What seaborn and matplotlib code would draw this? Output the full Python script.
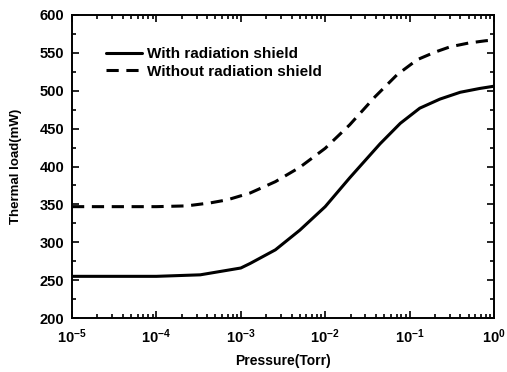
import numpy as np
import pandas as pd
import matplotlib
matplotlib.use("Agg")
import matplotlib.pyplot as plt
import seaborn as sns
from matplotlib.ticker import FuncFormatter, LogLocator, MultipleLocator, NullFormatter

# Data
pressure_with = [1e-5, 3.16e-5, 1e-4, 3.31e-4, 1.0e-3, 1.29e-3, 2.57e-3, 5.01e-3,
                 1.0e-2, 1.95e-2, 2.57e-2, 4.47e-2, 7.76e-2, 0.132, 0.229, 0.398, 0.676, 1.0]
load_with = [255, 255, 255, 257, 266, 272, 290, 316,
             347, 385, 400, 430, 457, 477, 489, 498, 503, 506]

pressure_without = [1e-5, 3.16e-5, 1e-4, 2.29e-4, 4.37e-4, 6.92e-4, 1.29e-3, 2.57e-3,
                    5.01e-3, 1.0e-2, 1.95e-2, 3.89e-2, 7.08e-2, 0.123, 0.2, 0.302,
                    0.501, 0.794, 1.0]
load_without = [347, 347, 347, 348, 352, 356, 365, 380,
                399, 424, 455, 492, 521, 541, 551, 558,
                563, 566, 567]

series_names = ["With radiation shield", "Without radiation shield"]

df = pd.concat([
    pd.DataFrame({"Pressure": pressure_with, "Load": load_with, "Series": series_names[0]}),
    pd.DataFrame({"Pressure": pressure_without, "Load": load_without, "Series": series_names[1]}),
])

sns.set_style("ticks")
plt.rcParams["font.family"] = ["Liberation Sans", "DejaVu Sans"]
plt.rcParams["font.weight"] = "bold"
plt.rcParams["text.color"] = "black"
plt.rcParams["axes.labelcolor"] = "black"
plt.rcParams["xtick.color"] = "black"
plt.rcParams["ytick.color"] = "black"
plt.rcParams["axes.edgecolor"] = "black"
plt.rcParams["mathtext.fontset"] = "custom"
plt.rcParams["mathtext.rm"] = "Liberation Sans:bold"
plt.rcParams["mathtext.bf"] = "Liberation Sans:bold"
plt.rcParams["mathtext.it"] = "Liberation Sans:bold"

fig = plt.figure(figsize=(5.07, 3.72), dpi=100)
ax = fig.add_axes([72 / 507, 1 - 318 / 372, (494 - 72) / 507, (318 - 15) / 372])

sns.lineplot(data=df, x="Pressure", y="Load", hue="Series", style="Series",
             palette=["black", "black"], dashes=[(None, None), (4, 2.5)],
             linewidth=2.2, ax=ax, sort=False, estimator=None)
ax.lines[0].set_linestyle("-")
ax.lines[1].set_dashes((4, 2.5))

ax.set_xscale("log")
ax.set_xlim(1e-5, 1)
ax.set_ylim(200, 600)
ax.yaxis.set_major_locator(MultipleLocator(50))
ax.yaxis.set_minor_locator(MultipleLocator(25))
ax.xaxis.set_major_locator(LogLocator(base=10, numticks=10))
ax.xaxis.set_minor_locator(LogLocator(base=10, subs=np.arange(2, 10), numticks=20))
ax.xaxis.set_minor_formatter(NullFormatter())
ax.xaxis.set_major_formatter(FuncFormatter(lambda v, p: r"$\mathregular{10^{%d}}$" % int(round(np.log10(v)))))

ax.tick_params(which="both", direction="in", top=True, right=True, labelsize=10.5, width=1.2,
               colors="black")
ax.tick_params(which="major", length=5)
ax.tick_params(which="minor", length=3)
ax.tick_params(axis="x", which="major", pad=6.5)
ax.tick_params(axis="y", which="major", pad=5.5)
for lab in ax.get_yticklabels():
    lab.set_fontweight("bold")
for s in ax.spines.values():
    s.set_linewidth(1.4)
    s.set_color("black")

ax.set_xlabel("Pressure(Torr)", fontsize=10, fontweight="bold", labelpad=6, color="black")
ax.set_ylabel("Thermal load(mW)", fontsize=9.5, fontweight="bold", labelpad=13, color="black")

handles, labels = ax.get_legend_handles_labels()
leg = ax.legend(handles, labels, loc="upper left", bbox_to_anchor=(0.065, 0.915), frameon=False,
                fontsize=11, handlelength=2.4, handletextpad=0.3, labelspacing=0.25,
                borderaxespad=0)
for t in leg.get_texts():
    t.set_fontweight("bold")
    t.set_color("black")

fig.savefig("out.png", dpi=100)
